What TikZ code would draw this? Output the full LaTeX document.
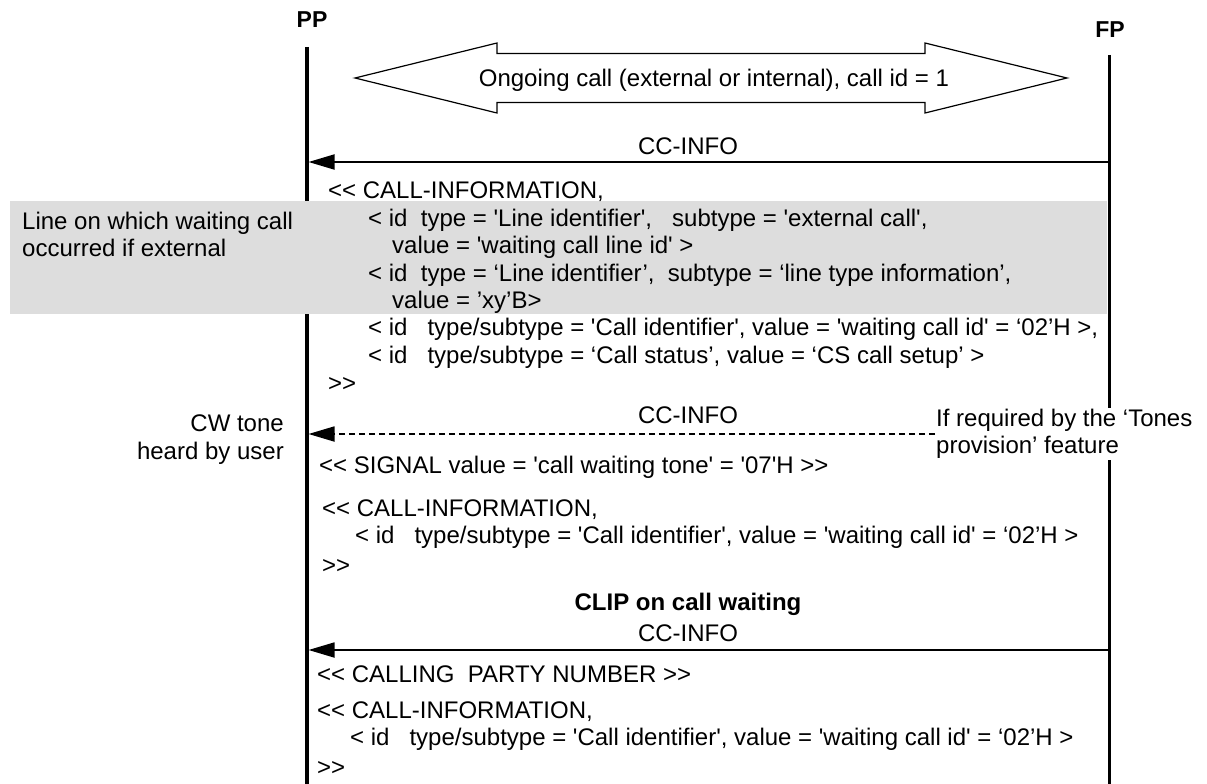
\documentclass[tikz,border=0pt]{standalone}
\usepackage{fontspec}
\setmainfont{Liberation Sans}[Ligatures=TeXOff]
\usetikzlibrary{arrows.meta}
\definecolor{boxgrey}{RGB}{221,221,221}
\newcommand{\sq}{\textquotesingle}
\begin{document}
\begin{tikzpicture}[x=1pt,y=-1pt,
  every node/.style={font=\fontsize{24}{27.5}\selectfont, inner sep=0pt},
  msg/.style={anchor=base west},
  lbl/.style={anchor=base},
  head/.style={anchor=base, font=\fontsize{23}{27}\selectfont\bfseries},
  life/.style={line width=3.5pt},
  sig/.style={line width=1.8pt, -{Triangle[length=26pt,width=15pt]}},
  opt/.style={sig, dash pattern=on 6pt off 4pt},
  callarrow/.style={draw=black, line width=1.2pt, fill=white}]
\useasboundingbox (0,0) rectangle (1207,784);
% lifelines
\node[head] (PP) at (312,28) {PP};
\node[head] (FP) at (1110,38) {FP};
\coordinate (PPtop) at (307,47);
\coordinate (PPbot) at (307,784);
\coordinate (FPtop) at (1109.5,55);
\coordinate (FPbot) at (1109.5,784);
\draw[life] (PPtop) -- (PPbot);
\draw[life] (FPtop) -- (FPbot);
% ongoing call double arrow
\draw[callarrow] (355,78) -- (497,43) -- (497,53.5) -- (925,53.5) -- (925,43) -- (1067,78)
  -- (925,113) -- (925,102.5) -- (497,102.5) -- (497,113) -- cycle;
\node[lbl] (ongoing) at (714,86.5) {Ongoing call (external or internal), call id = 1};
% first CC-INFO
\coordinate (m1s) at (1108,162);
\coordinate (m1e) at (308.5,162);
\draw[sig] (m1s) -- (m1e);
\node[lbl] (m1l) at (688,154.5) {CC-INFO};
% grey highlight
\fill[boxgrey] (10,201) rectangle (1107,314);
\node[msg] (t1) at (328,198) {<< CALL-INFORMATION,};
\node[msg] (t2) at (368,226) {< id~ type = \sq Line identifier\sq,~~ subtype = \sq external call\sq,};
\node[msg] (t3) at (392,253) {value = \sq waiting call line id\sq{} >};
\node[msg] (t4) at (368,281) {< id~ type = ‘Line identifier’,~ subtype = ‘line type information’,};
\node[msg] (t5) at (392,308) {value = ’xy’B>};
\node[msg] (t6) at (368,335) {< id~~ type/subtype = \sq Call identifier\sq, value = \sq waiting call id\sq{} = ‘02’H >,};
\node[msg] (t7) at (368,363) {< id~~ type/subtype = ‘Call status’, value = ‘CS call setup’ >};
\node[msg] (t8) at (328,391) {>>};
\node[msg] (n1) at (22,229) {Line on which waiting call};
\node[msg] (n2) at (22,256) {occurred if external};
% second CC-INFO (optional)
\node[anchor=west, align=left, fill=white, inner xsep=1pt, inner ysep=1pt] (tones) at (935,434)
  {If required by the ‘Tones\\provision’ feature};
\coordinate (m2e) at (308.5,434);
\draw[opt] (tones.west) -- (m2e);
\node[lbl] (m2l) at (688,423.5) {CC-INFO};
\node[anchor=base east] (cw1) at (284,431) {CW tone};
\node[anchor=base east] (cw2) at (284,459) {heard by user};
\node[msg] (s1) at (319,473) {<< SIGNAL value = \sq call waiting tone\sq{} = \sq 07\sq H >>};
\node[msg] (s2) at (322,516) {<< CALL-INFORMATION,};
\node[msg] (s3) at (355,543) {< id~~ type/subtype = \sq Call identifier\sq, value = \sq waiting call id\sq{} = ‘02’H >};
\node[msg] (s4) at (322,573) {>>};
% CLIP
\node[lbl, font=\fontsize{24}{27.5}\selectfont\bfseries] (clip) at (688,610.5) {CLIP on call waiting};
\node[lbl] (m3l) at (688,641.5) {CC-INFO};
\coordinate (m3s) at (1108,650);
\coordinate (m3e) at (308.5,650);
\draw[sig] (m3s) -- (m3e);
\node[msg] (c1) at (317,682) {<< CALLING~ PARTY NUMBER >>};
\node[msg] (c2) at (317,718) {<< CALL-INFORMATION,};
\node[msg] (c3) at (350,745) {< id~~ type/subtype = \sq Call identifier\sq, value = \sq waiting call id\sq{} = ‘02’H >};
\node[msg] (c4) at (317,775) {>>};
\end{tikzpicture}
\end{document}
